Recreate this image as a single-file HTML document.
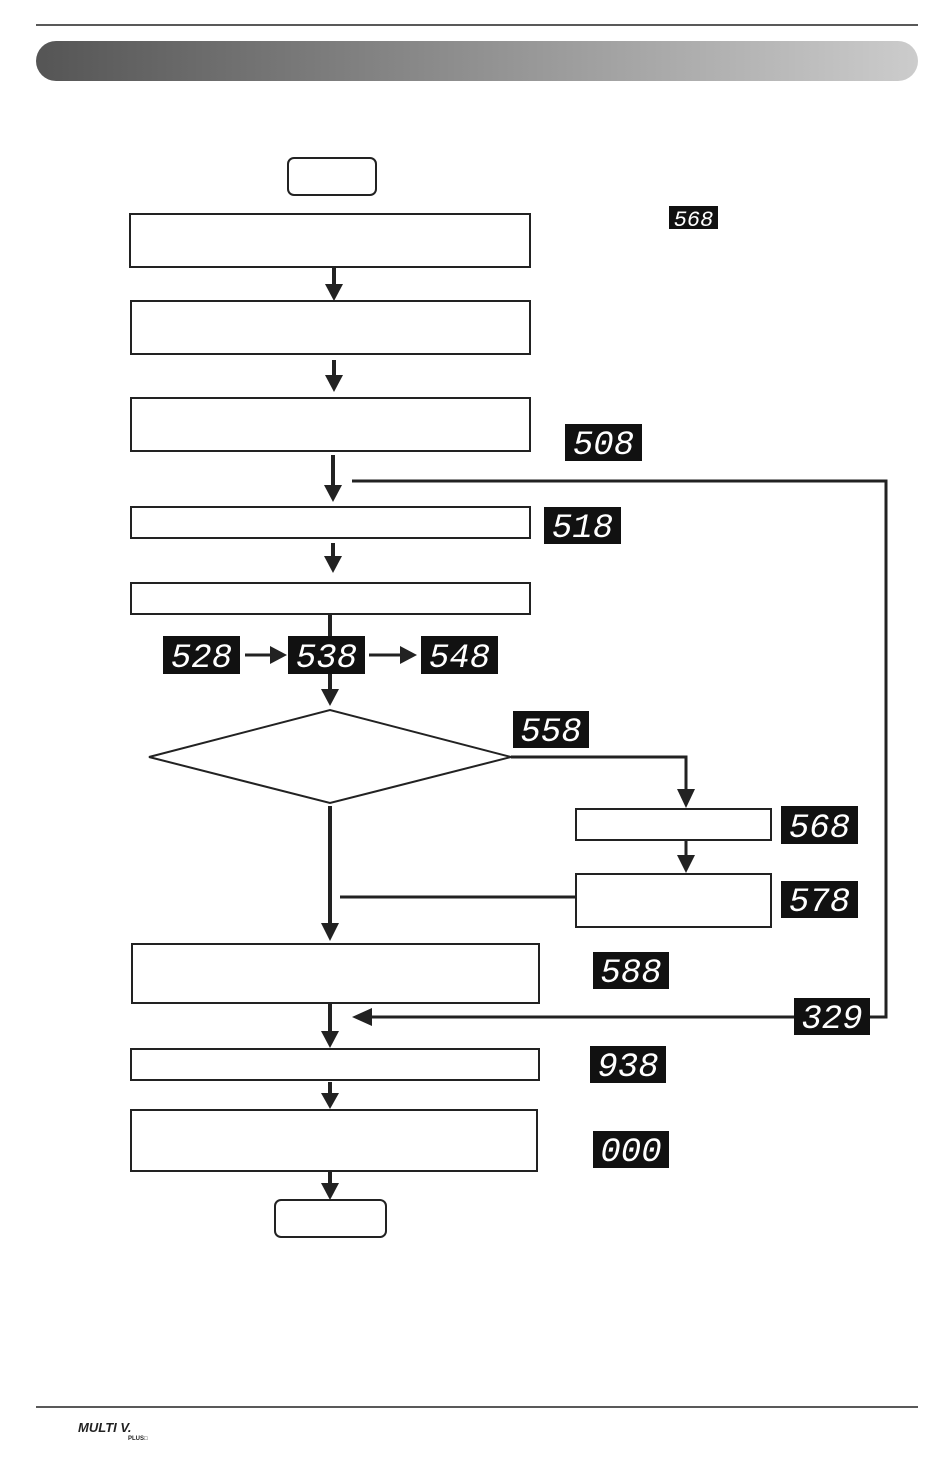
<!DOCTYPE html>
<html><head><meta charset="utf-8"><style>
html,body{margin:0;padding:0;background:#fff;}
svg{display:block;}
.b{fill:#fff;stroke:#222;stroke-width:2;}
.d{fill:#111;}
.t{fill:#fff;font-family:"Liberation Mono",monospace;font-style:italic;font-size:34px;text-anchor:middle;}
.l{stroke:#222;stroke-width:3;fill:none;}
.v{stroke:#222;stroke-width:4;fill:none;}
.a{fill:#222;}
</style></head><body>
<svg width="950" height="1458" viewBox="0 0 950 1458" xmlns="http://www.w3.org/2000/svg">
<defs><linearGradient id="g" x1="0" x2="1"><stop offset="0" stop-color="#555"/><stop offset="1" stop-color="#ccc"/></linearGradient></defs>
<line x1="36" y1="25" x2="918" y2="25" stroke="#222" stroke-width="1.5"/>
<rect x="36" y="41" width="882" height="40" rx="20" fill="url(#g)"/>
<line x1="36" y1="1407" x2="918" y2="1407" stroke="#222" stroke-width="1.5"/>
<text x="78" y="1432" font-family="Liberation Sans" font-weight="bold" font-style="italic" font-size="13" fill="#222">MULTI V.</text>
<text x="128" y="1440" font-family="Liberation Sans" font-weight="bold" font-size="6" fill="#222">PLUS□</text>

<rect class="b" x="288" y="158" width="88" height="37" rx="6"/>
<rect class="b" x="130" y="214" width="400" height="53"/>
<rect class="b" x="131" y="301" width="399" height="53"/>
<rect class="b" x="131" y="398" width="399" height="53"/>
<rect class="b" x="131" y="507" width="399" height="31"/>
<rect class="b" x="131" y="583" width="399" height="31"/>
<polygon class="b" points="149,757 330,710 511,757 330,803"/>
<rect class="b" x="576" y="809" width="195" height="31"/>
<rect class="b" x="576" y="874" width="195" height="53"/>
<rect class="b" x="132" y="944" width="407" height="59"/>
<rect class="b" x="131" y="1049" width="408" height="31"/>
<rect class="b" x="131" y="1110" width="406" height="61"/>
<rect class="b" x="275" y="1200" width="111" height="37" rx="6"/>

<g class="v">
<line x1="334" y1="268" x2="334" y2="288"/>
<line x1="334" y1="360" x2="334" y2="380"/>
<line x1="333" y1="455" x2="333" y2="488"/>
<line x1="333" y1="543" x2="333" y2="560"/>
<line x1="330" y1="614" x2="330" y2="694"/>
<line x1="330" y1="806" x2="330" y2="925"/>
<line x1="330" y1="1003" x2="330" y2="1034"/>
<line x1="330" y1="1082" x2="330" y2="1096"/>
<line x1="330" y1="1172" x2="330" y2="1186"/>
</g>
<g class="l">
<polyline points="352,481 886,481 886,1017 870,1017"/>
<line x1="794" y1="1017" x2="370" y2="1017"/>
<line x1="245" y1="655" x2="272" y2="655"/>
<line x1="369" y1="655" x2="404" y2="655"/>
<polyline points="511,757 686,757 686,792"/>
<line x1="686" y1="840" x2="686" y2="858"/>
<line x1="576" y1="897" x2="340" y2="897"/>
</g>
<g class="a">
<polygon points="325,284 343,284 334,301"/>
<polygon points="325,375 343,375 334,392"/>
<polygon points="324,485 342,485 333,502"/>
<polygon points="324,556 342,556 333,573"/>
<polygon points="321,689 339,689 330,706"/>
<polygon points="270,646 270,664 287,655"/>
<polygon points="400,646 400,664 417,655"/>
<polygon points="677,789 695,789 686,808"/>
<polygon points="677,855 695,855 686,873"/>
<polygon points="321,923 339,923 330,941"/>
<polygon points="321,1031 339,1031 330,1048"/>
<polygon points="321,1093 339,1093 330,1109"/>
<polygon points="321,1183 339,1183 330,1200"/>
<polygon points="372,1008 372,1026 352,1017"/>
</g>

<g>
<rect class="d" x="669" y="206" width="49" height="23"/><text class="t" x="693.5" y="226" style="font-size:22px">568</text>
<rect class="d" x="565" y="424" width="77" height="37"/><text class="t" x="603.5" y="454">508</text>
<rect class="d" x="544" y="507" width="77" height="37"/><text class="t" x="582.5" y="537">518</text>
<rect class="d" x="163" y="636" width="77" height="38"/><text class="t" x="201.5" y="667">528</text>
<rect class="d" x="288" y="636" width="77" height="38"/><text class="t" x="326.5" y="667">538</text>
<rect class="d" x="421" y="636" width="77" height="38"/><text class="t" x="459.5" y="667">548</text>
<rect class="d" x="513" y="711" width="76" height="37"/><text class="t" x="551" y="741">558</text>
<rect class="d" x="781" y="806" width="77" height="38"/><text class="t" x="819.5" y="837">568</text>
<rect class="d" x="781" y="881" width="77" height="37"/><text class="t" x="819.5" y="911">578</text>
<rect class="d" x="593" y="952" width="76" height="37"/><text class="t" x="631" y="982">588</text>
<rect class="d" x="794" y="998" width="76" height="37"/><text class="t" x="832" y="1028">329</text>
<rect class="d" x="590" y="1046" width="76" height="37"/><text class="t" x="628" y="1076">938</text>
<rect class="d" x="593" y="1131" width="76" height="37"/><text class="t" x="631" y="1161">000</text>
</g>
</svg>
</body></html>
